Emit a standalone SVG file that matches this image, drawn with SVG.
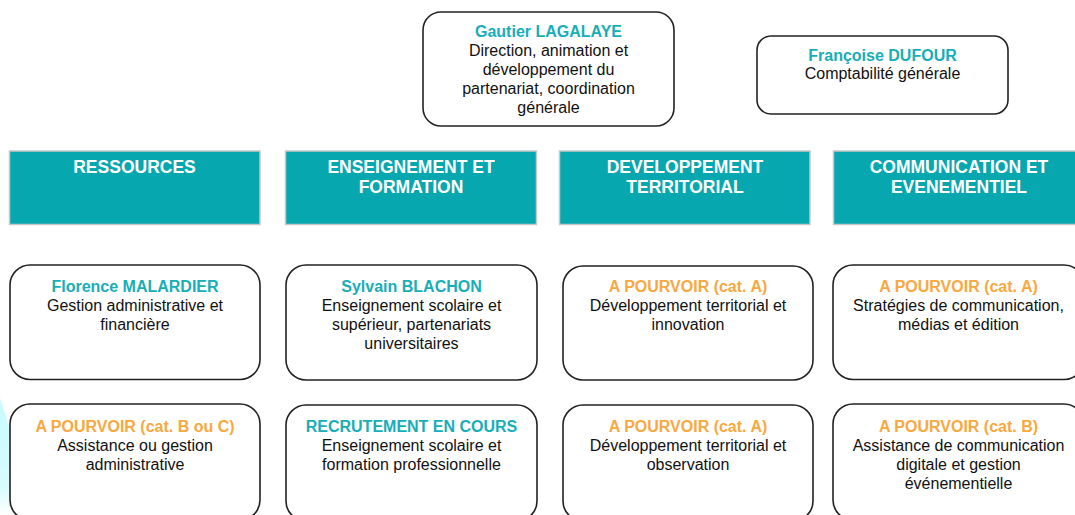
<svg xmlns="http://www.w3.org/2000/svg" width="1075" height="515" viewBox="0 0 1075 515">
<defs>
<linearGradient id="cy" x1="0" y1="0" x2="0" y2="1">
<stop offset="0" stop-color="#C9FAFD"/>
<stop offset="0.75" stop-color="#D6FBFD"/>
<stop offset="1" stop-color="#FFFFFF"/>
</linearGradient>
</defs>
<style>
text{font-family:"Liberation Sans",Arial,sans-serif;text-anchor:middle}
.box{fill:#fff;stroke:#222;stroke-width:1.6}
.hdr{fill:#07A7B0;stroke:#C8C8C8;stroke-width:1.5}
.ht{fill:#fff;font-weight:bold;font-size:17.5px}
.nm{fill:#17AEB7;font-weight:bold;font-size:16px}
.op{fill:#F9A83F;font-weight:bold;font-size:16px}
.tx{fill:#111;font-size:16px}
</style>
<rect width="1075" height="515" fill="#fff"/>
<polygon points="0,398 11,432 11,515 0,515" fill="url(#cy)"/>
<g id="connectors"></g>
<g id="gautier">
<rect class="box" x="423" y="12" width="251" height="114" rx="18"/>
<text class="nm" x="548.5" y="37">Gautier LAGALAYE</text>
<text class="tx" x="548.5" y="56">Direction, animation et</text>
<text class="tx" x="548.5" y="75">développement  du</text>
<text class="tx" x="548.5" y="94">partenariat, coordination</text>
<text class="tx" x="548.5" y="113">générale</text>
</g>
<g id="francoise">
<rect class="box" x="757" y="36" width="251" height="78" rx="14"/>
<text class="nm" x="882.5" y="61">Françoise DUFOUR</text>
<text class="tx" x="882.5" y="79">Comptabilité  générale</text>
</g>
<g id="h-ressources">
<rect class="hdr" x="9.5" y="151" width="250.5" height="73.5"/>
<text class="ht" x="134.5" y="173">RESSOURCES</text>
</g>
<g id="h-enseignement">
<rect class="hdr" x="285.5" y="151" width="251" height="73.5"/>
<text class="ht" x="411" y="173">ENSEIGNEMENT ET</text>
<text class="ht" x="411" y="193">FORMATION</text>
</g>
<g id="h-developpement">
<rect class="hdr" x="559.5" y="151" width="250.5" height="73.5"/>
<text class="ht" x="685" y="173">DEVELOPPEMENT</text>
<text class="ht" x="685" y="193">TERRITORIAL</text>
</g>
<g id="h-communication">
<rect class="hdr" x="833.5" y="151" width="251" height="73.5"/>
<text class="ht" x="959" y="173">COMMUNICATION ET</text>
<text class="ht" x="959" y="193">EVENEMENTIEL</text>
</g>
<g id="malardier">
<rect class="box" x="10" y="265" width="250" height="114.5" rx="20"/>
<text class="nm" x="135" y="292">Florence MALARDIER</text>
<text class="tx" x="135" y="311">Gestion administrative et</text>
<text class="tx" x="135" y="330">financière</text>
</g>
<g id="blachon">
<rect class="box" x="286" y="265" width="251" height="115" rx="20"/>
<text class="nm" x="411.5" y="292">Sylvain BLACHON</text>
<text class="tx" x="411.5" y="311">Enseignement  scolaire et</text>
<text class="tx" x="411.5" y="330">supérieur, partenariats</text>
<text class="tx" x="411.5" y="349">universitaires</text>
</g>
<g id="dev-innovation">
<rect class="box" x="563" y="266" width="250" height="114" rx="20"/>
<text class="op" x="688" y="292">A POURVOIR (cat. A)</text>
<text class="tx" x="688" y="311">Développement  territorial et</text>
<text class="tx" x="688" y="330">innovation</text>
</g>
<g id="com-strategies">
<rect class="box" x="833" y="265" width="251" height="114.5" rx="20"/>
<text class="op" x="958.5" y="292">A POURVOIR (cat. A)</text>
<text class="tx" x="958.5" y="311">Stratégies de communication,</text>
<text class="tx" x="958.5" y="330">médias et édition</text>
</g>
<g id="assistance-admin">
<rect class="box" x="10" y="404" width="250" height="116" rx="20"/>
<text class="op" x="135" y="432">A POURVOIR (cat. B ou C)</text>
<text class="tx" x="135" y="451">Assistance ou gestion</text>
<text class="tx" x="135" y="470">administrative</text>
</g>
<g id="recrutement">
<rect class="box" x="286" y="405" width="251" height="116" rx="20"/>
<text class="nm" x="411.5" y="432">RECRUTEMENT EN COURS</text>
<text class="tx" x="411.5" y="451">Enseignement  scolaire et</text>
<text class="tx" x="411.5" y="470">formation professionnelle</text>
</g>
<g id="dev-observation">
<rect class="box" x="563" y="405" width="250" height="116" rx="20"/>
<text class="op" x="688" y="432">A POURVOIR (cat. A)</text>
<text class="tx" x="688" y="451">Développement  territorial et</text>
<text class="tx" x="688" y="470">observation</text>
</g>
<g id="com-digitale">
<rect class="box" x="833" y="404" width="251" height="116" rx="20"/>
<text class="op" x="958.5" y="432">A POURVOIR (cat. B)</text>
<text class="tx" x="958.5" y="451">Assistance de communication</text>
<text class="tx" x="958.5" y="470">digitale  et gestion</text>
<text class="tx" x="958.5" y="489">événementielle</text>
</g>
</svg>
